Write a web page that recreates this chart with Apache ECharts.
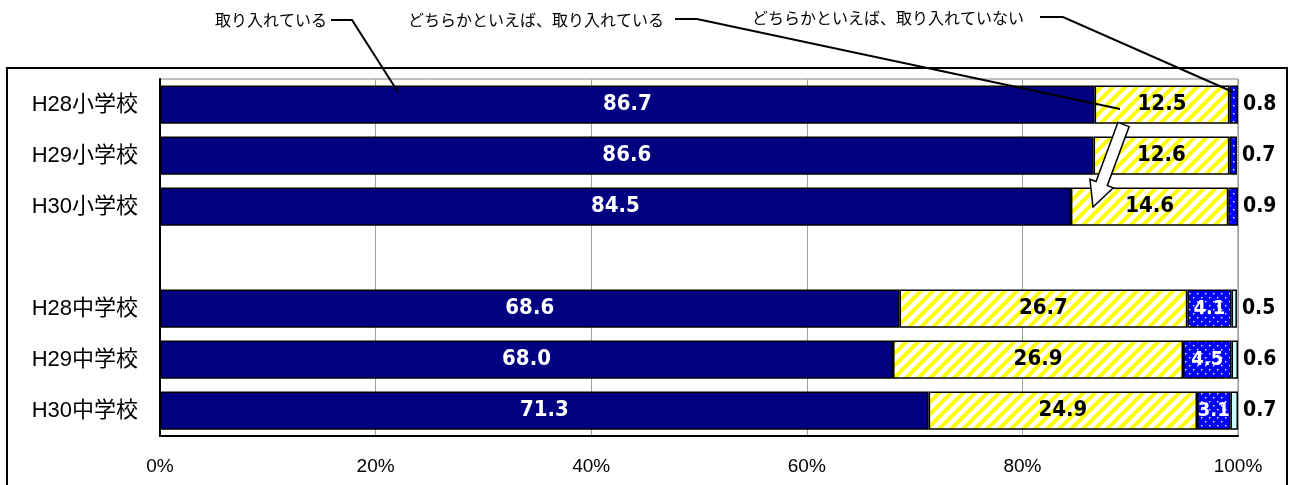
<!DOCTYPE html>
<html><head><meta charset="utf-8">
<script src="https://cdn.jsdelivr.net/npm/echarts@6/dist/echarts.min.js"></script>
<style>html,body{margin:0;padding:0;background:#fff}#c{width:1291px;height:485px}</style>
</head><body><div id="c"></div>
<script>
const categories = ['H28小学校','H29小学校','H30小学校','','H28中学校','H29中学校','H30中学校'];
const seriesNames = ['取り入れている','どちらかといえば、取り入れている','どちらかといえば、取り入れていない','取り入れていない'];
const s1 = [86.7, 86.6, 84.5, null, 68.6, 68.0, 71.3];
const s2 = [12.5, 12.6, 14.6, null, 26.7, 26.9, 24.9];
const s3 = [0.8, 0.7, 0.9, null, 4.1, 4.5, 3.1];
const s4 = [null, null, null, null, 0.5, 0.6, 0.7];
const xTicks = [0, 20, 40, 60, 80, 100];

function stripePattern(){
  const s = 12, c = document.createElement('canvas'); c.width = s; c.height = s;
  const g = c.getContext('2d'); g.fillStyle = '#fff'; g.fillRect(0,0,s,s);
  g.strokeStyle = '#FFFF00'; g.lineWidth = 3.8;
  [[0,s,s,0],[-s,s,s,-s],[0,2*s,2*s,0]].forEach(l=>{g.beginPath();g.moveTo(l[0],l[1]);g.lineTo(l[2],l[3]);g.stroke();});
  return {image:c, repeat:'repeat'};
}
function dotPattern(){
  const s = 8, c = document.createElement('canvas'); c.width = s; c.height = s;
  const g = c.getContext('2d'); g.fillStyle = '#0000FF'; g.fillRect(0,0,s,s);
  g.fillStyle = '#fff'; g.fillRect(1,1,1.4,1.4); g.fillRect(5,5,1.4,1.4);
  return {image:c, repeat:'repeat'};
}
const numFont = "'DejaVu Sans Condensed','Liberation Sans',sans-serif";
const lblBig = {fontFamily:numFont, fontWeight:'bold', fontSize:22};
const outLabel = {show:true, position:'right', distance:5, color:'#000', fontFamily:numFont, fontWeight:'bold', fontSize:21, formatter:p=>p.value.toFixed(1)};
const inSmall = {show:true, position:'inside', color:'#fff', fontFamily:numFont, fontWeight:'bold', fontSize:20, formatter:p=>p.value.toFixed(1)};

const border = {borderColor:'#000', borderWidth:1.5};
function mk(arr, fn){ return arr.map((v,i)=> v==null ? '-' : Object.assign({value:v}, fn ? fn(v,i) : {})); }

const chart = echarts.init(document.getElementById('c'), null, {renderer:'canvas'});
const option = {
  animation:false,
  backgroundColor:'#fff',
  grid:{left:160, top:79, width:1078, height:357, show:true, borderColor:'#808080', borderWidth:1, containLabel:false},
  xAxis:{type:'value', min:0, max:100, interval:20,
    axisLine:{show:true, lineStyle:{color:'#000', width:2}}, axisTick:{show:false},
    splitLine:{show:true, lineStyle:{color:'#a0a0a0', width:1}},
    axisLabel:{formatter:v=>xTicks.includes(v)?v+'%':'', color:'#000', fontSize:19, fontFamily:"'Liberation Sans',sans-serif", margin:21}},
  yAxis:{type:'category', inverse:true, data:categories,
    axisLine:{show:true, lineStyle:{color:'#000', width:2}}, axisTick:{show:false},
    axisLabel:{color:'#000', fontSize:22, fontFamily:"'Liberation Sans','Noto Sans CJK JP',sans-serif", margin:22}},
  series:[
    {name:seriesNames[0], type:'bar', stack:'t', barCategoryGap:'25%', itemStyle:Object.assign({color:'#000080'}, border),
     label:Object.assign({show:true, position:'inside', color:'#fff', formatter:p=>p.value.toFixed(1)}, lblBig), data:mk(s1)},
    {name:seriesNames[1], type:'bar', stack:'t', itemStyle:Object.assign({color:stripePattern()}, border),
     label:Object.assign({show:true, position:'inside', color:'#000', formatter:p=>p.value.toFixed(1)}, lblBig), data:mk(s2)},
    {name:seriesNames[2], type:'bar', stack:'t', itemStyle:Object.assign({color:dotPattern()}, border),
     label:inSmall, data:mk(s3, (v,i)=> s4[i]==null ? {label:outLabel} : {})},
    {name:seriesNames[3], type:'bar', stack:'t', itemStyle:Object.assign({color:'#CCFFFF'}, border),
     label:outLabel, data:mk(s4)}
  ]
};
chart.setOption(option);

const annFont = {fontSize:16, fontFamily:"'Noto Sans CJK JP',sans-serif", fill:'#000'};
const lineStyle = {stroke:'#000', lineWidth:2, fill:null};
// arrow geometry
const tail=[1123.5,124.5], tip=[1093,207];
const dx=tip[0]-tail[0], dy=tip[1]-tail[1], L=Math.hypot(dx,dy), d=[dx/L,dy/L];
const nn=[d[1], -d[0]];
const pp=(p,v,k)=>[p[0]+v[0]*k, p[1]+v[1]*k];
const base=pp(tip,d,-25);
const arrowPts=[pp(tail,nn,-6), pp(base,nn,-6), pp(base,nn,-12.5), tip, pp(base,nn,12.5), pp(base,nn,6), pp(tail,nn,6)];

chart.setOption({graphic:[
  {type:'rect', shape:{x:7, y:68, width:1280, height:430}, style:{fill:null, stroke:'#000', lineWidth:2}, silent:true, z:-10},
  {type:'text', x:215, y:20, style:Object.assign({text:seriesNames[0], verticalAlign:'middle'}, annFont)},
  {type:'polyline', shape:{points:[[331,20],[352,20],[398,92]]}, style:lineStyle, z:50},
  {type:'text', x:408, y:20, style:Object.assign({text:seriesNames[1], verticalAlign:'middle'}, annFont)},
  {type:'polyline', shape:{points:[[675,19],[697,19],[1120,109]]}, style:lineStyle, z:50},
  {type:'text', x:752, y:18, style:Object.assign({text:seriesNames[2], verticalAlign:'middle'}, annFont)},
  {type:'polyline', shape:{points:[[1040,17],[1063,17],[1233,92]]}, style:lineStyle, z:50},
  {type:'polygon', shape:{points:arrowPts}, style:{fill:'#fff', stroke:'#000', lineWidth:1.5}, z:50}
]});
</script></body></html>
